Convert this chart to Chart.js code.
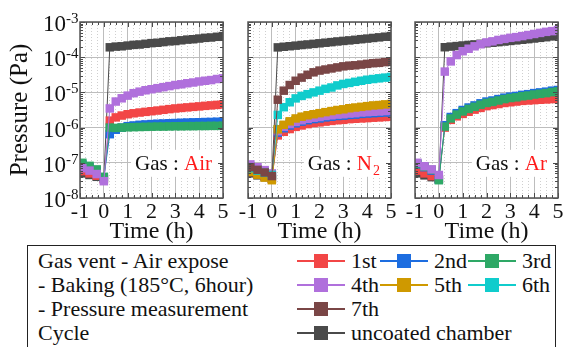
<!DOCTYPE html>
<html>
<head>
<meta charset="utf-8">
<script src="https://cdn.jsdelivr.net/npm/chart.js@4.4.0/dist/chart.umd.min.js"></script>
<style>
  body { margin: 0; background: #fff; }
  #wrap { position: relative; width: 565px; height: 347px; overflow: hidden;
          font-family: 'Liberation Serif', 'Times New Roman', serif; color: #111; }
  #wrap canvas { position: absolute; top: 0; }
  #legendBox { position: absolute; left: 27px; top: 245px; width: 529px; height: 120px;
               border: 1px solid #222; box-sizing: border-box; }
  .lt { position: absolute; font-size: 22px; line-height: 22px; white-space: nowrap; }
  .sw-line { position: absolute; height: 1.5px; width: 48px; }
  .sw-box { position: absolute; width: 14px; height: 14px; }
</style>
</head>
<body>
<div id="wrap">
  <canvas id="pAir" width="232" height="245" style="left:0px"></canvas>
  <canvas id="pN2" width="166" height="245" style="left:232px"></canvas>
  <canvas id="pAr" width="167" height="245" style="left:398px"></canvas>
  <div id="legendBox"></div>
</div>
<script>
// time axis (h): 4 points before venting, then every 15 min after
const timeH = [-0.9, -0.6, -0.3, 0,
  0.25, 0.5, 0.75, 1, 1.25, 1.5, 1.75, 2, 2.25, 2.5, 2.75, 3, 3.25, 3.5, 3.75, 4, 4.25, 4.5, 4.75, 5];

const seriesNames = ['1st', '2nd', '3rd', '4th', '5th', '6th', '7th', 'uncoated chamber'];
const seriesColors = ['#f24646', '#1d6de0', '#2ea866', '#b070dc', '#cf9900', '#10cccc', '#7a4646', '#4a4a4a'];

const xTickLabels = [-1, 0, 1, 2, 3, 4, 5];
const yDecades = [-8, -7, -6, -5, -4, -3];

// Gas : Air
const air1st = [5.8e-8, 5.0e-8, 4.3e-8, 3.4e-8,
  1.58e-6, 1.95e-6, 2.2e-6, 2.4e-6, 2.55e-6, 2.68e-6, 2.8e-6, 2.92e-6, 3.05e-6, 3.2e-6,
  3.35e-6, 3.5e-6, 3.62e-6, 3.75e-6, 3.88e-6, 4.0e-6, 4.15e-6, 4.28e-6, 4.42e-6, 4.55e-6];
const air2nd = [9.0e-8, 7.5e-8, 6.0e-8, 3.8e-8,
  6.5e-7, 8.7e-7, 1.0e-6, 1.1e-6, 1.15e-6, 1.2e-6, 1.23e-6, 1.26e-6, 1.29e-6, 1.31e-6,
  1.33e-6, 1.35e-6, 1.37e-6, 1.39e-6, 1.41e-6, 1.42e-6, 1.44e-6, 1.45e-6, 1.47e-6, 1.48e-6];
const air3rd = [1.0e-7, 8.2e-8, 6.5e-8, 4.0e-8,
  1.0e-6, 0.98e-6, 1.0e-6, 1.02e-6, 1.03e-6, 1.04e-6, 1.05e-6, 1.06e-6, 1.07e-6, 1.07e-6,
  1.08e-6, 1.09e-6, 1.09e-6, 1.1e-6, 1.1e-6, 1.11e-6, 1.11e-6, 1.12e-6, 1.12e-6, 1.13e-6];
const air4th = [7.0e-8, 6.0e-8, 4.8e-8, 3.0e-8,
  3.5e-6, 5.5e-6, 6.8e-6, 8.1e-6, 9.5e-6, 1.05e-5, 1.15e-5, 1.23e-5, 1.32e-5, 1.41e-5,
  1.51e-5, 1.62e-5, 1.70e-5, 1.82e-5, 1.91e-5, 2.04e-5, 2.14e-5, 2.24e-5, 2.40e-5, 2.51e-5];
const airUncoated = [5.0e-8, 4.5e-8, 4.0e-8, 3.5e-8,
  1.91e-4, 2.0e-4, 2.04e-4, 2.14e-4, 2.24e-4, 2.29e-4, 2.40e-4, 2.51e-4, 2.57e-4, 2.69e-4,
  2.82e-4, 2.88e-4, 3.02e-4, 3.16e-4, 3.24e-4, 3.39e-4, 3.55e-4, 3.63e-4, 3.80e-4, 3.98e-4];

// Gas : N2
const n2_1st = [5.5e-8, 4.8e-8, 4.2e-8, 3.6e-8,
  6.0e-7, 7.6e-7, 9.1e-7, 1.05e-6, 1.15e-6, 1.26e-6, 1.35e-6, 1.41e-6, 1.48e-6, 1.55e-6,
  1.62e-6, 1.66e-6, 1.74e-6, 1.78e-6, 1.82e-6, 1.86e-6, 1.91e-6, 1.95e-6, 2.0e-6, 2.04e-6];
const n2_2nd = [6.5e-8, 5.5e-8, 4.8e-8, 4.0e-8,
  7.2e-7, 9.6e-7, 1.15e-6, 1.32e-6, 1.48e-6, 1.62e-6, 1.74e-6, 1.82e-6, 1.95e-6, 2.04e-6,
  2.14e-6, 2.19e-6, 2.29e-6, 2.34e-6, 2.45e-6, 2.51e-6, 2.57e-6, 2.63e-6, 2.69e-6, 2.75e-6];
const n2_3rd = [8.0e-8, 6.5e-8, 5.5e-8, 4.4e-8,
  8.9e-7, 1.17e-6, 1.41e-6, 1.62e-6, 1.82e-6, 2.0e-6, 2.14e-6, 2.24e-6, 2.40e-6, 2.51e-6,
  2.63e-6, 2.69e-6, 2.82e-6, 2.88e-6, 3.02e-6, 3.09e-6, 3.16e-6, 3.24e-6, 3.31e-6, 3.39e-6];
const n2_4th = [9.0e-8, 7.5e-8, 6.2e-8, 5.0e-8,
  7.9e-7, 1.05e-6, 1.26e-6, 1.45e-6, 1.62e-6, 1.78e-6, 1.91e-6, 2.0e-6, 2.14e-6, 2.24e-6,
  2.34e-6, 2.40e-6, 2.51e-6, 2.57e-6, 2.69e-6, 2.75e-6, 2.82e-6, 2.88e-6, 2.95e-6, 3.02e-6];
const n2_5th = [5.5e-8, 4.6e-8, 3.8e-8, 3.2e-8,
  8.9e-7, 1.2e-6, 1.51e-6, 1.82e-6, 2.04e-6, 2.24e-6, 2.40e-6, 2.57e-6, 2.75e-6, 2.95e-6,
  3.16e-6, 3.31e-6, 3.55e-6, 3.72e-6, 3.89e-6, 4.07e-6, 4.27e-6, 4.37e-6, 4.57e-6, 4.68e-6];
const n2_6th = [7.0e-8, 6.0e-8, 5.2e-8, 4.5e-8,
  2.29e-6, 3.8e-6, 5.25e-6, 6.76e-6, 7.94e-6, 8.91e-6, 1.0e-5, 1.12e-5, 1.26e-5, 1.38e-5,
  1.58e-5, 1.74e-5, 1.86e-5, 2.0e-5, 2.14e-5, 2.29e-5, 2.40e-5, 2.51e-5, 2.63e-5, 2.75e-5];
const n2_7th = [7.5e-8, 6.3e-8, 5.3e-8, 4.2e-8,
  6.2e-6, 1.12e-5, 1.62e-5, 2.14e-5, 2.63e-5, 3.16e-5, 3.72e-5, 4.17e-5, 4.47e-5, 4.79e-5,
  5.13e-5, 5.50e-5, 5.75e-5, 5.89e-5, 6.17e-5, 6.46e-5, 6.76e-5, 6.92e-5, 7.24e-5, 7.41e-5];
const n2Uncoated = [5.0e-8, 4.4e-8, 3.9e-8, 3.5e-8,
  1.9e-4, 1.98e-4, 2.05e-4, 2.13e-4, 2.22e-4, 2.3e-4, 2.39e-4, 2.48e-4, 2.58e-4, 2.68e-4,
  2.8e-4, 2.9e-4, 3.0e-4, 3.12e-4, 3.25e-4, 3.38e-4, 3.52e-4, 3.66e-4, 3.82e-4, 3.98e-4];

// Gas : Ar
const ar1st = [6.0e-8, 5.0e-8, 4.2e-8, 3.5e-8,
  1.0e-6, 1.66e-6, 2.09e-6, 2.45e-6, 2.82e-6, 3.24e-6, 3.63e-6, 4.07e-6, 4.37e-6, 4.68e-6,
  5.01e-6, 5.25e-6, 5.50e-6, 5.75e-6, 5.89e-6, 6.03e-6, 6.17e-6, 6.31e-6, 6.46e-6, 6.61e-6];
const ar2nd = [9.0e-8, 7.5e-8, 6.0e-8, 3.3e-8,
  1.17e-6, 2.0e-6, 2.57e-6, 3.16e-6, 3.72e-6, 4.27e-6, 4.90e-6, 5.50e-6, 5.89e-6, 6.46e-6,
  7.08e-6, 7.59e-6, 7.94e-6, 8.51e-6, 8.91e-6, 9.55e-6, 1.0e-5, 1.05e-5, 1.12e-5, 1.17e-5];
const ar3rd = [9.5e-8, 7.8e-8, 6.3e-8, 3.2e-8,
  1.07e-6, 1.82e-6, 2.34e-6, 2.88e-6, 3.39e-6, 3.89e-6, 4.47e-6, 5.01e-6, 5.37e-6, 5.89e-6,
  6.46e-6, 6.92e-6, 7.24e-6, 7.76e-6, 8.13e-6, 8.71e-6, 9.12e-6, 9.55e-6, 1.02e-5, 1.07e-5];
const ar4th = [1.0e-7, 8.0e-8, 6.5e-8, 4.5e-8,
  3.9e-5, 7.6e-5, 1.15e-4, 1.48e-4, 1.74e-4, 2.04e-4, 2.34e-4, 2.63e-4, 2.82e-4, 3.09e-4,
  3.31e-4, 3.55e-4, 3.72e-4, 3.98e-4, 4.27e-4, 4.57e-4, 4.90e-4, 5.25e-4, 5.50e-4, 5.89e-4];
const arUncoated = [5.0e-8, 4.4e-8, 3.9e-8, 3.5e-8,
  1.92e-4, 2.0e-4, 2.07e-4, 2.15e-4, 2.23e-4, 2.31e-4, 2.4e-4, 2.49e-4, 2.58e-4, 2.68e-4,
  2.79e-4, 2.9e-4, 3.01e-4, 3.13e-4, 3.26e-4, 3.4e-4, 3.55e-4, 3.7e-4, 3.9e-4, 4.1e-4];

const FONT = "'Liberation Serif', 'Times New Roman', serif";

// frame, inside ticks, text labels and the "Gas : X" box
const panelDeco = {
  id: 'panelDeco',
  beforeDatasetsDraw(chart, args, o) {
    const { ctx, chartArea: a, scales: { y } } = chart;
    ctx.save();
    const w = gasLabelWidth(ctx, o);
    const yc = y.getPixelForValue(1e-7);
    ctx.fillStyle = '#fff';
    ctx.fillRect(a.right - 11 - w - 4, yc - 13, w + 15, 27);
    ctx.restore();
  },
  afterDatasetsDraw(chart, args, o) {
    const { ctx, chartArea: a, scales: { x, y } } = chart;
    ctx.save();
    ctx.strokeStyle = '#4a4a4a';
    ctx.lineWidth = 1;
    ctx.beginPath();
    yDecades.forEach(e => {
      for (let m = 1; m < 10; m++) {
        const v = m * Math.pow(10, e);
        if (e === -3 && m > 1) break;
        const py = Math.round(y.getPixelForValue(v)) + 0.5;
        const len = m === 1 ? 5 : 3;
        ctx.moveTo(a.left, py); ctx.lineTo(a.left + len, py);
        ctx.moveTo(a.right, py); ctx.lineTo(a.right - len, py);
      }
    });
    for (let t = -1; t <= 5; t += 0.25) {
      const px = Math.round(x.getPixelForValue(t)) + 0.5;
      const len = Number.isInteger(t) ? 5 : 3;
      ctx.moveTo(px, a.bottom); ctx.lineTo(px, a.bottom - len);
      ctx.moveTo(px, a.top); ctx.lineTo(px, a.top + len);
    }
    ctx.stroke();
    ctx.lineWidth = 1.5;
    ctx.strokeStyle = '#555';
    ctx.strokeRect(a.left, a.top, a.right - a.left, a.bottom - a.top);

    // gas label
    const w = gasLabelWidth(ctx, o);
    const base = y.getPixelForValue(1e-7) + 7;
    let tx = a.right - 11 - w;
    ctx.textAlign = 'left';
    ctx.textBaseline = 'alphabetic';
    ctx.font = '21px ' + FONT;
    ctx.fillStyle = '#111';
    ctx.fillText('Gas : ', tx, base);
    tx += ctx.measureText('Gas : ').width;
    ctx.fillStyle = '#ff1a1a';
    ctx.fillText(o.gas, tx, base);
    if (o.sub) {
      tx += ctx.measureText(o.gas).width;
      ctx.font = '14px ' + FONT;
      ctx.fillText(o.sub, tx + 1, base + 5);
    }
    ctx.restore();
  },
  afterDraw(chart, args, o) {
    const { ctx, chartArea: a, scales: { x, y } } = chart;
    ctx.save();
    ctx.fillStyle = '#111';
    ctx.textBaseline = 'alphabetic';
    ctx.textAlign = 'center';
    ctx.font = '22px ' + FONT;
    xTickLabels.forEach(v => ctx.fillText(String(v), x.getPixelForValue(v), a.bottom + 20));
    ctx.font = '24px ' + FONT;
    ctx.fillText('Time (h)', (a.left + a.right) / 2, 238);
    if (o.showY) {
      yDecades.forEach(e => {
        const py = y.getPixelForValue(Math.pow(10, e));
        ctx.textAlign = 'right';
        ctx.font = '23px ' + FONT;
        ctx.fillText('10', 66, py + 9);
        ctx.textAlign = 'left';
        ctx.font = '15px ' + FONT;
        ctx.fillText(String(e), 66, py + 1);
      });
      ctx.translate(27, (a.top + a.bottom) / 2);
      ctx.rotate(-Math.PI / 2);
      ctx.textAlign = 'center';
      ctx.font = '25px ' + FONT;
      ctx.fillText('Pressure (Pa)', 0, 0);
    }
    ctx.restore();
  }
};

function gasLabelWidth(ctx, o) {
  ctx.save();
  ctx.font = '21px ' + FONT;
  let w = ctx.measureText('Gas : ' + o.gas).width;
  if (o.sub) { ctx.font = '14px ' + FONT; w += ctx.measureText(o.sub).width + 1; }
  ctx.restore();
  return w;
}

function makePanel(id, series, deco, leftW, rightPad) {
  // later cycles drawn on top: Chart.js paints index 0 last
  const datasets = series.map(s => {
    const c = seriesColors[s.idx];
    return {
      label: seriesNames[s.idx],
      data: timeH.map((t, i) => ({ x: t, y: s.values[i] })),
      borderColor: c,
      backgroundColor: c,
      pointBackgroundColor: c,
      borderWidth: 1,
      pointStyle: 'rect',
      pointRadius: 6,
      pointBorderWidth: 0,
      pointHoverRadius: 6,
      tension: 0
    };
  }).reverse();

  new Chart(document.getElementById(id), {
    type: 'line',
    data: { datasets },
    options: {
      responsive: false,
      animation: false,
      events: [],
      layout: { padding: { top: 22, right: rightPad, left: 0, bottom: 0 } },
      plugins: { legend: { display: false }, tooltip: { enabled: false }, panelDeco: deco },
      scales: {
        x: {
          type: 'linear', min: -1, max: 5,
          afterBuildTicks: s => {
            const ticks = [];
            for (let t = -1; t <= 5; t += 0.25) ticks.push({ value: t, major: Number.isInteger(t) });
            s.ticks = ticks;
          },
          afterFit: s => { s.height = 47; },
          ticks: { display: false },
          grid: {
            drawTicks: false,
            lineWidth: 1,
            color: c => (c.tick && c.tick.major) ? '#bdbdbd' : '#cfcfcf'
          },
          border: { display: false, dash: c => (c.tick && !c.tick.major) ? [1, 2] : [] }
        },
        y: {
          type: 'logarithmic', min: 1e-8, max: 1e-3,
          afterBuildTicks: s => { s.ticks = yDecades.map(e => ({ value: Math.pow(10, e), major: true })); },
          afterFit: s => { s.width = leftW; },
          ticks: { display: false },
          grid: { drawTicks: false, lineWidth: 1, color: '#bdbdbd' },
          border: { display: false }
        }
      }
    },
    plugins: [panelDeco]
  });
}

makePanel('pAir', [
  { idx: 7, values: airUncoated }, { idx: 0, values: air1st }, { idx: 1, values: air2nd },
  { idx: 2, values: air3rd }, { idx: 3, values: air4th }
], { gas: 'Air', showY: true }, 80, 9);

makePanel('pN2', [
  { idx: 7, values: n2Uncoated }, { idx: 0, values: n2_1st }, { idx: 1, values: n2_2nd },
  { idx: 2, values: n2_3rd }, { idx: 3, values: n2_4th }, { idx: 4, values: n2_5th },
  { idx: 5, values: n2_6th }, { idx: 6, values: n2_7th }
], { gas: 'N', sub: '2', showY: false }, 16, 7);

makePanel('pAr', [
  { idx: 7, values: arUncoated }, { idx: 0, values: ar1st }, { idx: 1, values: ar2nd },
  { idx: 2, values: ar3rd }, { idx: 3, values: ar4th }
], { gas: 'Ar', showY: false }, 17, 7);

// legend below the panels
const wrap = document.getElementById('wrap');
const rowBase = [268, 292, 316, 340];
const noteLines = ['Gas vent - Air expose', '- Baking (185\u00B0C, 6hour)', '- Pressure measurement', 'Cycle'];
const legendCols = [297, 380, 468];
const legendSlots = [[0, 0], [0, 1], [0, 2], [1, 0], [1, 1], [1, 2], [2, 0], [3, 0]];

function addText(txt, left, baseline) {
  const d = document.createElement('div');
  d.className = 'lt';
  d.textContent = txt;
  d.style.left = left + 'px';
  d.style.top = (baseline - 18.4) + 'px';
  wrap.appendChild(d);
}

noteLines.forEach((t, i) => addText(t, 38, rowBase[i]));

seriesNames.forEach((name, i) => {
  const [row, col] = legendSlots[i];
  const x0 = legendCols[col];
  const cy = rowBase[row] - 7;
  const line = document.createElement('div');
  line.className = 'sw-line';
  line.style.left = x0 + 'px';
  line.style.top = (cy - 0.75) + 'px';
  line.style.background = seriesColors[i];
  wrap.appendChild(line);
  const box = document.createElement('div');
  box.className = 'sw-box';
  box.style.left = (x0 + 17) + 'px';
  box.style.top = (cy - 7) + 'px';
  box.style.background = seriesColors[i];
  wrap.appendChild(box);
  addText(name, x0 + 54, rowBase[row]);
});
</script>
</body>
</html>
